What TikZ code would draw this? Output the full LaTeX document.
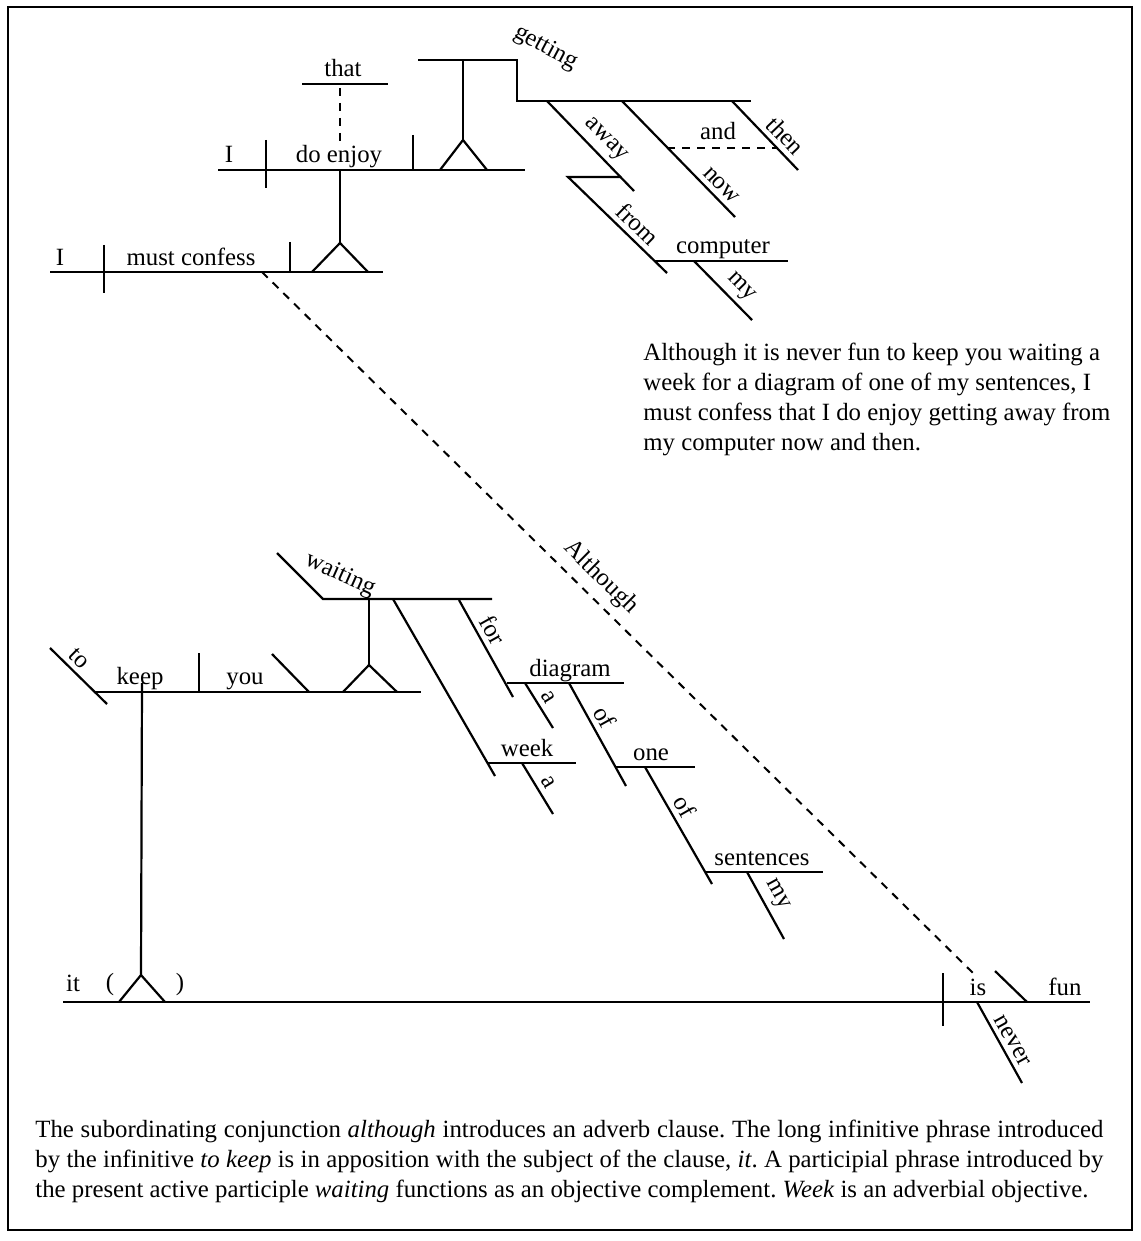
\documentclass[tikz,border=0pt]{standalone}
\usepackage{fontspec}
\setmainfont{Liberation Serif}
\usetikzlibrary{calc}
\frenchspacing
\tikzset{
 rule/.style={line width=1.1pt},
 dashrule/.style={line width=1pt,dash pattern=on 4pt off 3.5pt},
 frame/.style={line width=1.3pt},
 word/.style={inner sep=0pt,anchor=base},
 slantword/.style={sloped,above,inner sep=2.5pt},
 pedestal/.style={line width=1.1pt,line join=miter}
}

\begin{document}
\begin{tikzpicture}[x=0.5pt,y=-0.5pt,font=\fontsize{12.4}{15}\selectfont]
\path[use as bounding box] (0,0) rectangle (1140,1241);
\draw[frame] (8,7) rectangle (1132,1230);
% main clause: I must confess
\coordinate (mcL) at (50,272);
\coordinate (mcR) at (383,272);
\coordinate (mcTop) at (340,243);
\draw[rule] (mcL) -- (mcR);
\draw[rule] (104,245) -- (104,293);
\draw[rule] (290,242) -- (290,272);
\draw[pedestal] (312,272) -- (mcTop) -- (368,272);
\node[word] (wI) at (60,265) {I};
\node[word] (wConfess) at (191,265) {must confess};
% object clause: I do enjoy
\coordinate (deL) at (218,170);
\coordinate (deR) at (525,170);
\coordinate (deTop) at (463,140);
\draw[rule] (deL) -- (deR);
\draw[rule] (mcTop) -- (340,170);
\draw[rule] (266,140) -- (266,188);
\draw[rule] (413,135) -- (413,170);
\draw[pedestal] (440,170) -- (deTop) -- (487,170);
\node[word] (wI2) at (229,163) {I};
\node[word] (wEnjoy) at (339,163) {do enjoy};
\draw[rule] (302,84) -- (388,84);
\node[word] (wThat) at (343,77) {that};
\draw[dashrule] (340,88) -- (340,146);
% gerund: getting
\coordinate (gtA) at (418,60);
\coordinate (gtB) at (517,60);
\coordinate (gtC) at (517,101);
\coordinate (gtD) at (751,101);
\draw[rule] (deTop) -- (463,60);
\draw[rule] (gtA) -- (gtB) -- (gtC) -- (gtD);
\node[rotate=-28] (wGetting) at (546,48) {getting};
\draw[rule] (547,101) -- node[slantword,pos=.55] (wAway) {away} (634,191);
\draw[rule] (622,101) -- node[slantword,pos=.8] (wNow) {now} (735,217);
\draw[rule] (732,101) -- node[slantword,pos=.65] (wThen) {then} (798,170);
\draw[dashrule] (667,148) -- (777,148);
\node[word] (wAnd) at (718,140) {and};
\draw[rule] (621,177) -- (568,177) -- node[slantword,pos=.6] (wFrom) {from} (667,273);
\draw[rule] (654,261) -- (788,261);
\node[word] (wComputer) at (723,254) {computer};
\draw[rule] (694,261) -- node[slantword,pos=.62] (wMy) {my} (752,320);
% subordinate clause link
\coordinate (alA) at (262,272);
\coordinate (alB) at (975,975);
\draw[dashrule] (alA) -- node[slantword,pos=.455,inner sep=4pt] (wAlthough) {Although} (alB);
% the sentence
\node[anchor=north west,inner sep=0pt,align=left] (sentence) at (643,343)
 {Although it is never fun to keep you waiting a\\
  week for a diagram of one of my sentences, I\\
  must confess that I do enjoy getting away from\\
  my computer now and then.};
% clause: it is fun
\coordinate (itL) at (63,1002);
\coordinate (itR) at (1090,1002);
\coordinate (itTop) at (141,975);
\draw[rule] (itL) -- (itR);
\draw[rule] (943,973) -- (943,1026);
\draw[pedestal] (119,1002) -- (itTop) -- (165,1002);
\node[word] (wIt) at (73,991) {it};
\node (lpar) at (110,985) {(};
\node (rpar) at (180,985) {)};
\node[word] (wIs) at (978,995) {is};
\draw[rule] (995,971) -- (1027,1002);
\node[word] (wFun) at (1065,995) {fun};
\draw[rule] (977,1002) -- node[slantword,pos=.55] (wNever) {never} (1022,1083);
% infinitive phrase: to keep
\coordinate (kpL) at (95,692);
\coordinate (kpR) at (421,692);
\coordinate (kpTop) at (369,665);
\draw[rule] (kpL) -- (kpR);
\draw[rule] (142,683) -- (itTop);
\draw[rule] (50,648) -- node[slantword,pos=.35] (wTo) {to} (107,704);
\node[word] (wKeep) at (140,684) {keep};
\draw[rule] (199,653) -- (199,692);
\node[word] (wYou) at (245,684) {you};
\draw[rule] (272,654) -- (309,692);
\draw[pedestal] (343,692) -- (kpTop) -- (397,692);
\draw[rule] (kpTop) -- (369,599);
% participle: waiting
\draw[rule] (277,553) -- (323,599) -- (492,599);
\node[rotate=-24] (wWaiting) at (340,575) {waiting};
\draw[rule] (393,599) -- (495,776);
\draw[rule] (488,763) -- (576,763);
\node[word] (wWeek) at (527,756) {week};
\draw[rule] (522,763) -- node[slantword,pos=.5] (wA1) {a} (553,814);
\draw[rule] (459,600) -- node[slantword,pos=.38] (wFor) {for} (513,697);
\draw[rule] (507,683) -- (624,683);
\node[word] (wDiagram) at (570,676) {diagram};
\draw[rule] (525,683) -- node[slantword,pos=.45] (wA2) {a} (553,728);
\draw[rule] (569,683) -- node[slantword,pos=.4] (wOf1) {of} (626,786);
\draw[rule] (616,767) -- (695,767);
\node[word] (wOne) at (651,760) {one};
\draw[rule] (645,767) -- node[slantword,pos=.4] (wOf2) {of} (712,884);
\draw[rule] (706,872) -- (823,872);
\node[word] (wSentences) at (762,865) {sentences};
\draw[rule] (747,872) -- node[slantword,pos=.45] (wMy2) {my} (784,939);
% caption
\node[anchor=north west,inner sep=0pt,text width=534pt,align=justify] (caption) at (35,1120)
 {The subordinating conjunction \textit{although} introduces an adverb clause. The long infinitive phrase introduced\linebreak
  by the infinitive \textit{to keep} is in apposition with the subject of the clause, \textit{it}. A participial phrase introduced by\linebreak
  the present active participle \textit{waiting} functions as an objective complement. \textit{Week} is an adverbial objective.};
\end{tikzpicture}
\end{document}
